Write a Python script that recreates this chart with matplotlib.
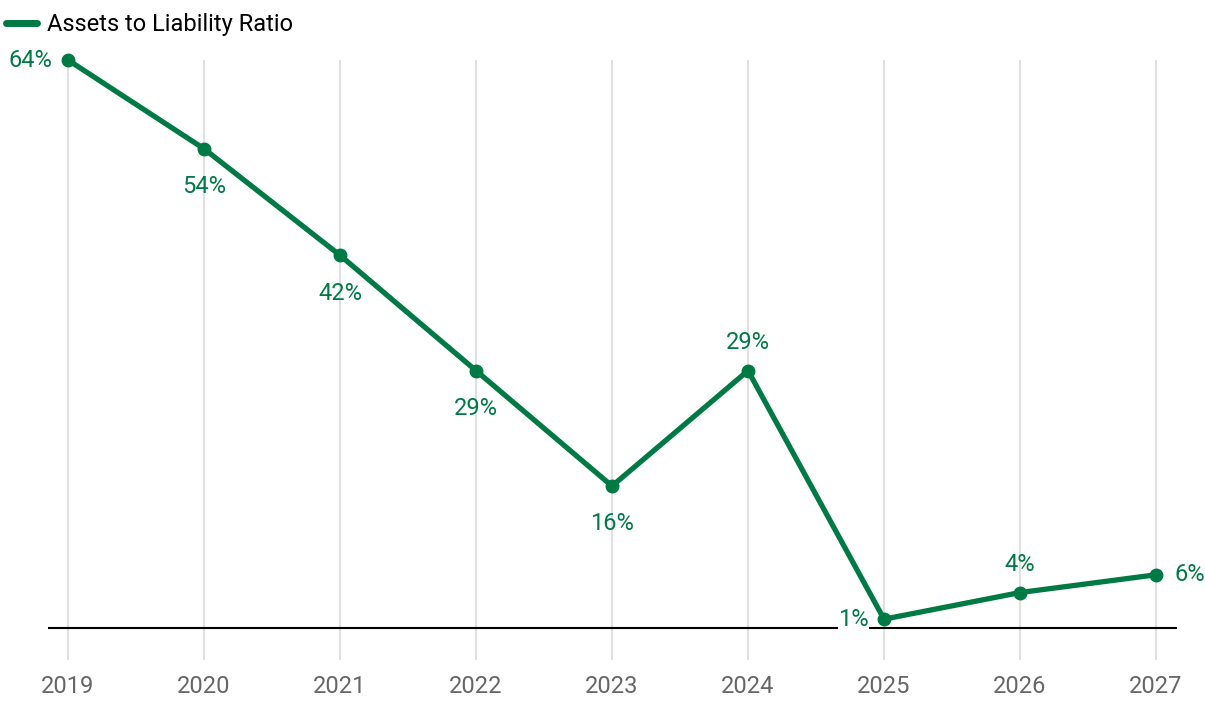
import matplotlib.pyplot as plt
from matplotlib.lines import Line2D

plt.rcParams['font.family'] = ['Roboto', 'DejaVu Sans']

# data
years = ['2019', '2020', '2021', '2022', '2023', '2024', '2025', '2026', '2027']
ratio = [64, 54, 42, 29, 16, 29, 1, 4, 6]
# label placement per point
label_pos = ['left', 'below', 'below', 'below', 'below', 'above', 'left', 'above', 'right']

green = '#007a45'

fig = plt.figure(figsize=(12.05, 7.22), dpi=100)
ax = fig.add_axes([48/1205, 62/722, 1129/1205, 600/722])

x = list(range(len(years)))
ax.plot(x, ratio, color=green, lw=3.8, marker='o', ms=9, clip_on=False,
        solid_capstyle='round', zorder=3)
ax.axhline(0, color='black', lw=1.5, zorder=2)

offsets = {'left': (-11, 0, 'right', 'center'),
           'right': (13, 0, 'left', 'center'),
           'above': (0, 12, 'center', 'bottom'),
           'below': (0, -19, 'center', 'top')}
for xi, v, p in zip(x, ratio, label_pos):
    dx, dy, ha, va = offsets[p]
    bbox = None
    if v == 1:
        bbox = dict(facecolor='white', edgecolor='none', pad=0.1)
    ax.annotate(f'{v}%', (xi, v), xytext=(dx, dy), textcoords='offset points',
                ha=ha, va=va, color=green, fontsize=17, bbox=bbox, zorder=4)

ax.set_xlim(-0.147, 8.154)
ax.set_ylim(-3.6, 64)
ax.set_xticks(x)
ax.set_xticklabels(years, color='#666666', fontsize=17)
ax.tick_params(axis='x', length=0, pad=11)
ax.set_yticks([])
ax.grid(axis='x', color='#e0e0e0', lw=1.5, zorder=0)
for s in ax.spines.values():
    s.set_visible(False)

handle = Line2D([], [], color=green, lw=5, solid_capstyle='round')
fig.legend([handle], ['Assets to Liability Ratio'], loc='upper left',
           bbox_to_anchor=(0.0, 1 - 7/722), frameon=False, fontsize=17,
           handlelength=1.3, handletextpad=0.45, borderpad=0.25,
           borderaxespad=0.0)

fig.savefig('out.png', dpi=100)
